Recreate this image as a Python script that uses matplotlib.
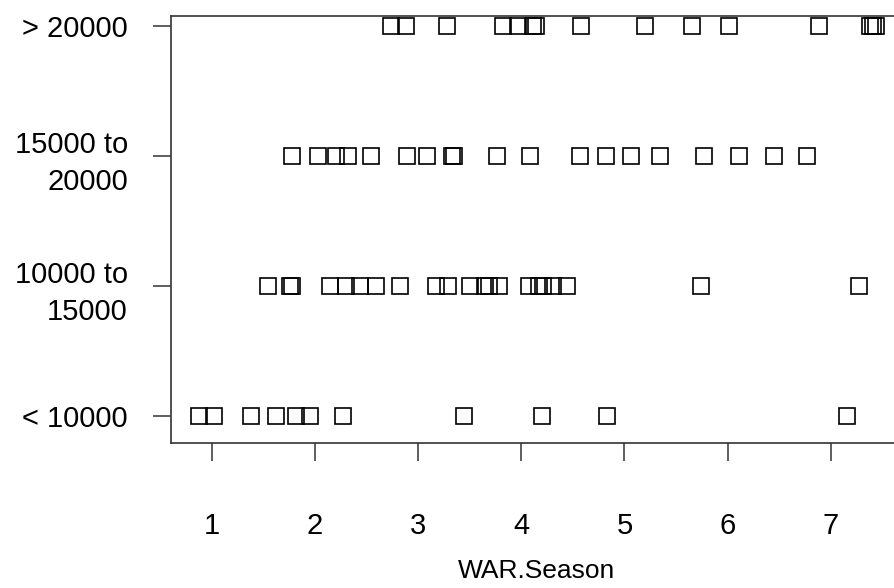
import numpy as np
import matplotlib
matplotlib.use("Agg")
from matplotlib import pyplot as plt

plt.rcParams['font.family'] = ['Liberation Sans', 'DejaVu Sans']

# WAR per season, grouped by salary band
labels = ['< 10000', '10000 to\n15000', '15000 to\n20000', '> 20000']
war_lt10k = [0.875, 1.02, 1.38, 1.62, 1.82, 1.95, 2.27, 3.44, 4.20, 4.83, 7.16]
war_10to15k = [1.545, 1.755, 1.777, 2.15, 2.30, 2.44, 2.59, 2.82, 3.17, 3.29,
               3.50, 3.65, 3.69, 3.78, 4.07, 4.17, 4.21, 4.31, 4.44, 5.74, 7.27]
war_15to20k = [1.775, 2.03, 2.20, 2.32, 2.54, 2.89, 3.09, 3.33, 3.35, 3.76,
               4.08, 4.57, 4.82, 5.06, 5.34, 5.77, 6.11, 6.45, 6.77]
war_gt20k = [2.74, 2.88, 3.28, 3.82, 3.97, 4.11, 4.14, 4.58, 5.20, 5.65,
             6.01, 6.89, 7.38, 7.41, 7.44]
groups = [war_lt10k, war_10to15k, war_15to20k, war_gt20k]

fig = plt.figure(figsize=(8.94, 5.88), dpi=100)
ax = fig.add_axes([171/894, 1-443/588, (903-171)/894, (443-16)/588])

for k, vals in enumerate(groups):
    ax.plot(vals, np.full(len(vals), k + 1), 's', mfc='none', mec='black',
            ms=11, mew=1.2)

ax.set_xlim(0.604, 7.70)
ax.set_ylim(0.792, 4.077)
ax.set_xticks(range(1, 8))
ax.set_yticks(range(1, 5))
ax.set_yticklabels(labels, linespacing=1.4)
ax.tick_params(length=13, width=1.1, labelsize=21, color='#333333')
ax.tick_params(axis='x', pad=37)
ax.tick_params(axis='y', pad=18)
ax.spines['right'].set_visible(False)
for s in ['left', 'top', 'bottom']:
    ax.spines[s].set_linewidth(1.2)
    ax.spines[s].set_color('#333333')
ax.set_xlabel('WAR.Season', fontsize=19, labelpad=13)

fig.savefig('out.png', dpi=100)
